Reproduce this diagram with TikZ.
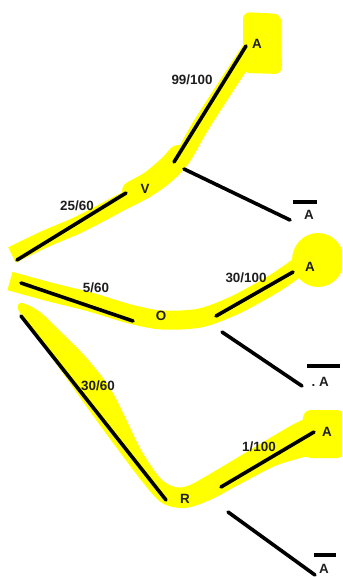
\documentclass[tikz,border=0pt]{standalone}
\usepackage{fontspec}
\setmainfont{Liberation Sans}
\definecolor{hl}{RGB}{255,255,0}
\definecolor{ink}{RGB}{30,30,30}
\tikzset{
  hlstroke/.style={draw=hl,line cap=round,line join=round},
  branch/.style={draw=black,line width=3.6pt,line cap=round},
  barline/.style={draw=black,line width=3.4pt},
  lbl/.style={inner sep=0pt,text=ink,font=\fontsize{13.4}{15}\selectfont\bfseries},
}
\begin{document}
\begin{tikzpicture}[x=1pt,y=-1pt]
\useasboundingbox (0,0) rectangle (342,577);
% ---------- yellow highlighter ----------
\begin{scope}
\clip (0,0) rectangle (342,577);
% top band
\draw[hlstroke,line width=17pt,line cap=butt] plot[smooth] coordinates {(12,255) (45,239) (80,224) (120,203) (145,190) (165,176) (182,158) (200,127) (225,88) (250,50)};
\draw[hlstroke,line width=20pt] plot[smooth] coordinates {(132,191) (150,181) (168,166) (178,155)};
\fill[hl,rounded corners=7pt] (243,12) -- (281,14) -- (282,74) -- (243,73) -- cycle;
% middle band
\draw[hlstroke,line width=19pt,line cap=butt] plot[smooth] coordinates {(10,281) (50,292) (90,302) (130,314) (162,320) (200,318) (235,305) (275,283) (305,262)};
\fill[hl] (318,260) ellipse [x radius=26pt,y radius=27pt];
% bottom band
\fill[hl] plot[smooth cycle] coordinates {
 (18,309) (32,330) (62,372) (102,428) (141,480) (162,503) (185,508) (210,500)
 (240,484) (275,466) (300,458) (315,452) (315,418) (300,421) (280,432) (250,450) (220,468) (190,485)
 (175,487) (160,478) (141,450) (125,417) (114,395) (103,378) (84,355) (64,335) (40,312) (22,303)};
\fill[hl,rounded corners=8pt] (303,410) rectangle (345,458);
\end{scope}
% ---------- nodes ----------
\node[lbl] (V) at (145,189) {V};
\node[lbl] (O) at (161,316) {O};
\node[lbl] (R) at (185,499) {R};
\node[lbl] (A1) at (257,44) {A};
\node[lbl] (N1) at (309,215) {A};
\node[lbl] (A2) at (310,267) {A};
\node[lbl,anchor=east] (N2) at (329,382) {.\ A};
\node[lbl] (A3) at (327,432) {A};
\node[lbl] (N3) at (324,569) {A};
\node[lbl] (p1) at (77,205.5) {25/60};
\node[lbl] (p2) at (96,288) {5/60};
\node[lbl] (p3) at (98,385.5) {30/60};
\node[lbl] (q1) at (192,79.5) {99/100};
\node[lbl] (q2) at (246,278) {30/100};
\node[lbl] (q3) at (259,447) {1/100};
% ---------- branch end points ----------
\coordinate (s1) at (17,260);  \coordinate (v1) at (126,193);
\coordinate (v2) at (174,162); \coordinate (a1) at (246,46);
\coordinate (v3) at (184,169); \coordinate (n1) at (290,220);
\coordinate (s2) at (21,283);  \coordinate (o1) at (133,321);
\coordinate (o2) at (216,316); \coordinate (a2) at (293,272);
\coordinate (o3) at (222,332); \coordinate (n2) at (302,386);
\coordinate (s3) at (21,316);  \coordinate (r1) at (166,500);
\coordinate (r2) at (221,487); \coordinate (a3) at (314,432);
\coordinate (r3) at (228,512); \coordinate (n3) at (315,575);
% bars over the complements
\coordinate (b1l) at (293,202); \coordinate (b1r) at (317,202);
\coordinate (b2l) at (307,366); \coordinate (b2r) at (340,366);
\coordinate (b3l) at (314,555); \coordinate (b3r) at (336,555);
% ---------- branches ----------
\draw[branch] (s1) -- (v1);
\draw[branch] (v2) -- (a1);
\draw[branch] (v3) -- (n1);
\draw[branch] (s2) -- (o1);
\draw[branch] (o2) -- (a2);
\draw[branch] (o3) -- (n2);
\draw[branch] (s3) -- (r1);
\draw[branch] (r2) -- (a3);
\draw[branch] (r3) -- (n3);
\draw[barline] (b1l) -- (b1r);
\draw[barline] (b2l) -- (b2r);
\draw[barline] (b3l) -- (b3r);
\end{tikzpicture}
\end{document}
